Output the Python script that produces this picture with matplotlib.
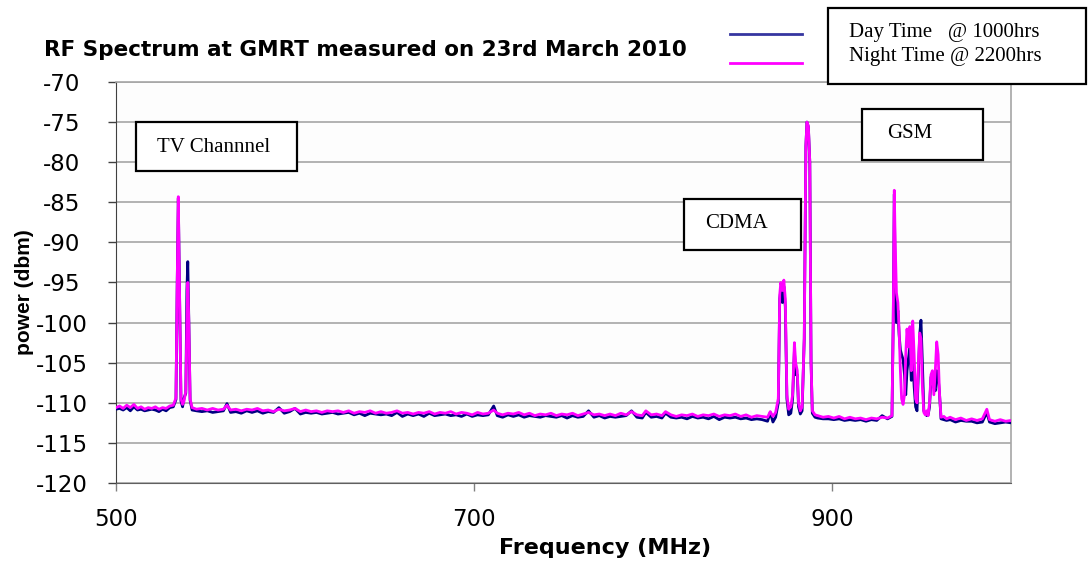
# RF spectrum at GMRT - day vs night sweep

import numpy as np
import matplotlib.pyplot as plt
from matplotlib.patches import Rectangle
from matplotlib.lines import Line2D

plt.rcParams['axes.unicode_minus'] = False

# Frequency points (MHz)
freq = [500, 502, 504, 506, 508, 510, 512, 514, 516, 518, 520, 522, 524, 526, 528, 530,
        532, 533.5, 534.2, 534.8, 535.5, 536.3, 537.2, 538, 539, 539.6, 540.1, 540.7, 541.4,
        542.5, 545, 548, 551, 554, 557, 560, 562, 564, 567, 570, 573, 576, 579, 582, 585,
        588, 591, 594, 597, 600, 603, 606, 609, 612, 615, 618, 621, 624, 627, 630, 633,
        636, 639, 642, 645, 648, 651, 654, 657, 660, 663, 666, 669, 672, 675, 678, 681,
        684, 687, 690, 693, 696, 699, 702, 705, 708, 711, 713, 716, 719, 722, 725, 728,
        731, 734, 737, 740, 743, 746, 749, 752, 755, 758, 761, 764, 767, 770, 773, 776,
        779, 782, 785, 788, 791, 794, 796, 799, 802, 805, 807, 810, 813, 816, 819, 822,
        825, 828, 831, 834, 837, 840, 843, 846, 849, 852, 855, 858, 861, 864, 865.5, 867,
        868.5,
        # CDMA
        870, 870.8, 871.4, 872.3, 873.1, 873.9, 874.8, 875.8, 877, 878, 879, 879.7,
        880.6, 881.3, 882.3, 883.3, 884.5, 885.4, 886, 886.8, 887.6, 888.3, 889, 890.5,
        892, 895, 898, 901, 904, 907, 910, 913, 916, 919, 922, 925, 928, 931, 933.5,
        # GSM
        934.2, 934.8, 935.3, 936, 936.8, 937.5, 938.2, 938.9, 939.7, 940.5, 941.2, 941.9,
        942.7, 943.5, 944.3, 945.1, 945.9, 946.7, 947.5, 948.3, 949, 949.7, 950.5, 951.3,
        952.1, 952.9, 953.7, 954.5, 955.3, 956.1, 956.9, 957.7, 958.5, 959.3, 960.1, 960.9,
        962.5, 964, 966, 969, 972, 975, 978, 981, 984, 986.5, 988, 991, 994, 997, 1000]

# Night time sweep @ 2200hrs (dBm)
night = [-110.6, -110.4, -110.7, -110.3, -110.6, -110.2, -110.7, -110.5, -110.8, -110.6,
         -110.7, -110.5, -110.8, -110.6, -110.7, -110.4,
         -110.3, -109.4, -95, -84.3, -96, -109.5, -110.2, -109.8, -108.5, -100, -95.0, -100,
         -109.5,
         -110.6, -110.8, -110.7, -110.9, -110.7, -110.9, -110.8, -110.3, -110.9, -110.8,
         -111.0, -110.8, -110.9, -110.7, -111.0, -110.9, -111.1, -110.8, -111.0, -110.9,
         -110.7, -111.1, -110.9, -111.1, -111.0, -111.2, -111.0, -111.1, -111.0, -111.2,
         -111.0, -111.3, -111.1, -111.2, -111.0, -111.3, -111.1, -111.3, -111.2, -111.0,
         -111.3, -111.2, -111.4, -111.2, -111.3, -111.1, -111.4, -111.2, -111.3, -111.1,
         -111.4, -111.2, -111.3, -111.5, -111.2, -111.4, -111.3, -110.9, -111.3, -111.5,
         -111.3, -111.4, -111.2, -111.5, -111.3, -111.6, -111.4, -111.5, -111.3, -111.6,
         -111.4, -111.5, -111.3, -111.6, -111.4, -111.2, -111.5, -111.4, -111.6, -111.4,
         -111.6, -111.3, -111.5, -111.1, -111.5, -111.6, -111.0, -111.5, -111.4, -111.6,
         -111.1, -111.5, -111.7, -111.5, -111.6, -111.4, -111.7, -111.5, -111.6, -111.4,
         -111.7, -111.5, -111.6, -111.4, -111.7, -111.5, -111.8, -111.6, -111.7, -111.8,
         -111.1, -111.7, -111.2,
         # CDMA
         -109.5, -96.5, -95.0, -96.0, -94.7, -97.0, -109.0, -110.8, -110.5, -109.0, -102.5,
         -105.0, -106.0, -110.0, -111.0, -110.5, -102.0, -78.0, -75.0, -75.5, -80.0, -105.0,
         -111.0, -111.5,
         -111.6, -111.8, -111.7, -111.9, -111.7, -112.0, -111.8, -112.0, -111.9, -112.1,
         -111.9, -112.0, -111.8, -111.9, -111.6,
         # GSM
         -100.0, -83.5, -90.0, -96.3, -97.5, -101.0, -106.0, -109.5, -110.2, -109.0, -104.0,
         -100.8, -103.0, -100.5, -106.0, -99.8, -104.0, -109.5, -110.0, -105.0, -101.3,
         -102.0, -108.0, -111.2, -111.5, -111.0, -111.6, -110.0, -106.5, -106.0, -109.0,
         -106.0, -102.4, -104.0, -109.0, -111.8,
         -111.7, -112.0, -111.8, -112.1, -111.9, -112.2, -112.0, -112.2, -112.0, -110.8,
         -112.1, -112.3, -112.1, -112.3, -112.2]

# Day time sweep @ 1000hrs (dBm)
day = [-110.8, -110.7, -110.9, -110.6, -111.0, -110.5, -110.9, -110.8, -111.0, -110.9,
       -110.8, -110.9, -111.1, -110.8, -111.0, -110.6,
       -110.5, -109.6, -95, -84.5, -96, -109.8, -110.5, -109.4, -108.8, -96, -92.4, -100,
       -109.7,
       -110.9, -111.0, -111.1, -111.0, -111.2, -111.1, -111.0, -110.1, -111.2, -111.1,
       -111.3, -111.0, -111.2, -111.0, -111.3, -111.1, -111.2, -110.6, -111.3, -111.1,
       -110.7, -111.4, -111.2, -111.3, -111.2, -111.4, -111.3, -111.2, -111.4, -111.3,
       -111.2, -111.5, -111.3, -111.6, -111.3, -111.4, -111.5, -111.4, -111.6, -111.2,
       -111.7, -111.4, -111.6, -111.4, -111.7, -111.3, -111.6, -111.5, -111.4, -111.6,
       -111.5, -111.7, -111.4, -111.7, -111.5, -111.6, -111.5, -110.4, -111.6, -111.8,
       -111.5, -111.7, -111.5, -111.8, -111.6, -111.7, -111.8, -111.6, -111.7, -111.8,
       -111.6, -111.9, -111.6, -111.8, -111.7, -111.0, -111.8, -111.6, -111.9, -111.7,
       -111.8, -111.7, -111.6, -111.0, -111.8, -111.9, -111.2, -111.8, -111.7, -111.9,
       -111.3, -111.8, -111.9, -111.8, -112.0, -111.7, -111.9, -111.8, -112.0, -111.7,
       -112.1, -111.8, -111.9, -111.8, -112.0, -111.9, -112.1, -112.0, -112.1, -112.3,
       -111.2, -112.4, -111.8,
       # CDMA
       -110.0, -97.0, -96.0, -97.5, -95.5, -98.0, -109.5, -111.5, -111.3, -109.5, -103.5,
       -106.5, -106.5, -110.5, -111.4, -111.0, -102.0, -78.0, -75.0, -75.6, -80.0, -105.0,
       -111.3, -111.8,
       -111.9, -112.0, -112.0, -112.1, -112.0, -112.2, -112.1, -112.2, -112.1, -112.3,
       -112.1, -112.2, -111.6, -112.0, -111.7,
       # GSM
       -100.0, -84.0, -95.0, -100.0, -98.5, -101.5, -103.4, -104.0, -104.6, -106.5, -109.0,
       -106.0, -104.5, -103.0, -107.2, -104.5, -108.0, -110.5, -111.0, -106.0, -101.5,
       -99.7, -105.0, -111.0, -111.3, -111.6, -111.5, -110.5, -106.8, -106.5, -108.0,
       -108.5, -106.0, -106.8, -109.0, -112.0,
       -112.1, -112.2, -112.1, -112.4, -112.2, -112.3, -112.3, -112.5, -112.4, -111.2,
       -112.4, -112.6, -112.5, -112.4, -112.5]

yticks = np.arange(-120, -65, 5)
xticks = [500, 700, 900]

W, H = 1091, 562
fig = plt.figure(figsize=(W / 100, H / 100), dpi=100)


def px(x0, y0, x1, y1):
    # pixel box (top-left origin) -> figure fraction rectangle
    return (x0 / W, 1 - y1 / H), (x1 - x0) / W, (y1 - y0) / H


ax = fig.add_axes([116 / W, 1 - 483 / H, (1011 - 116) / W, (483 - 82) / H])
ax.set_facecolor('#fdfdfd')

ax.plot(freq, day, color='#000080', lw=2, zorder=3)
ax.plot(freq, night, color='#ff00ff', lw=2, zorder=4)

ax.set_xlim(500, 1000)
ax.set_ylim(-120, -70)
ax.set_yticks(yticks)
ax.set_xticks(xticks)
ax.yaxis.grid(True, color='#a6a6a6', lw=1.2)
ax.set_axisbelow(True)

for s in ['top', 'right']:
    ax.spines[s].set_color('#a6a6a6')
    ax.spines[s].set_linewidth(1.2)
ax.spines['left'].set_color('#404040')
ax.spines['bottom'].set_color('#606060')

ax.tick_params(axis='y', length=6, width=1, color='#404040', pad=33, labelsize=16.5)
ax.tick_params(axis='x', length=6, width=1, color='#808080', pad=12, labelsize=16.5)
for lab in ax.get_yticklabels():
    lab.set_horizontalalignment('center')

# titles and axis labels
fig.text(44 / W, 1 - 50 / H, 'RF Spectrum at GMRT measured on 23rd March 2010',
         fontsize=15.5, fontweight='bold', va='center', ha='left')
fig.text(605 / W, 1 - 548 / H, 'Frequency (MHz)', fontsize=16, fontweight='bold',
         ha='center', va='center')
fig.text(24 / W, 1 - 292 / H, 'power (dbm)', fontsize=15, fontweight='bold',
         family='Liberation Sans', rotation=90, ha='center', va='center')

# text boxes
boxes = [(828, 8, 1086, 84), (136, 122, 297, 171), (684, 199, 801, 250), (862, 109, 983, 160)]
for b in boxes:
    xy, w, h = px(*b)
    fig.patches.append(Rectangle(xy, w, h, transform=fig.transFigure, facecolor='white',
                                 edgecolor='black', lw=1.6, zorder=5))

serif = dict(family='Liberation Serif', fontsize=15, va='center', ha='left', zorder=6)
fig.text(849 / W, 1 - 33 / H, 'Day Time   @ 1000hrs', **serif)
fig.text(849 / W, 1 - 57 / H, 'Night Time @ 2200hrs', **serif)
fig.text(157 / W, 1 - 147 / H, 'TV Channnel', **serif)
fig.text(705 / W, 1 - 224 / H, 'CDMA', **serif)
fig.text(887 / W, 1 - 133 / H, 'GSM', **serif)

# legend lines
fig.lines.append(Line2D([730 / W, 802 / W], [1 - 34 / H, 1 - 34 / H], transform=fig.transFigure,
                        color='#3535a0', lw=2))
fig.lines.append(Line2D([730 / W, 802 / W], [1 - 63 / H, 1 - 63 / H], transform=fig.transFigure,
                        color='#ff00ff', lw=2))

plt.savefig('out.png', dpi=100)
